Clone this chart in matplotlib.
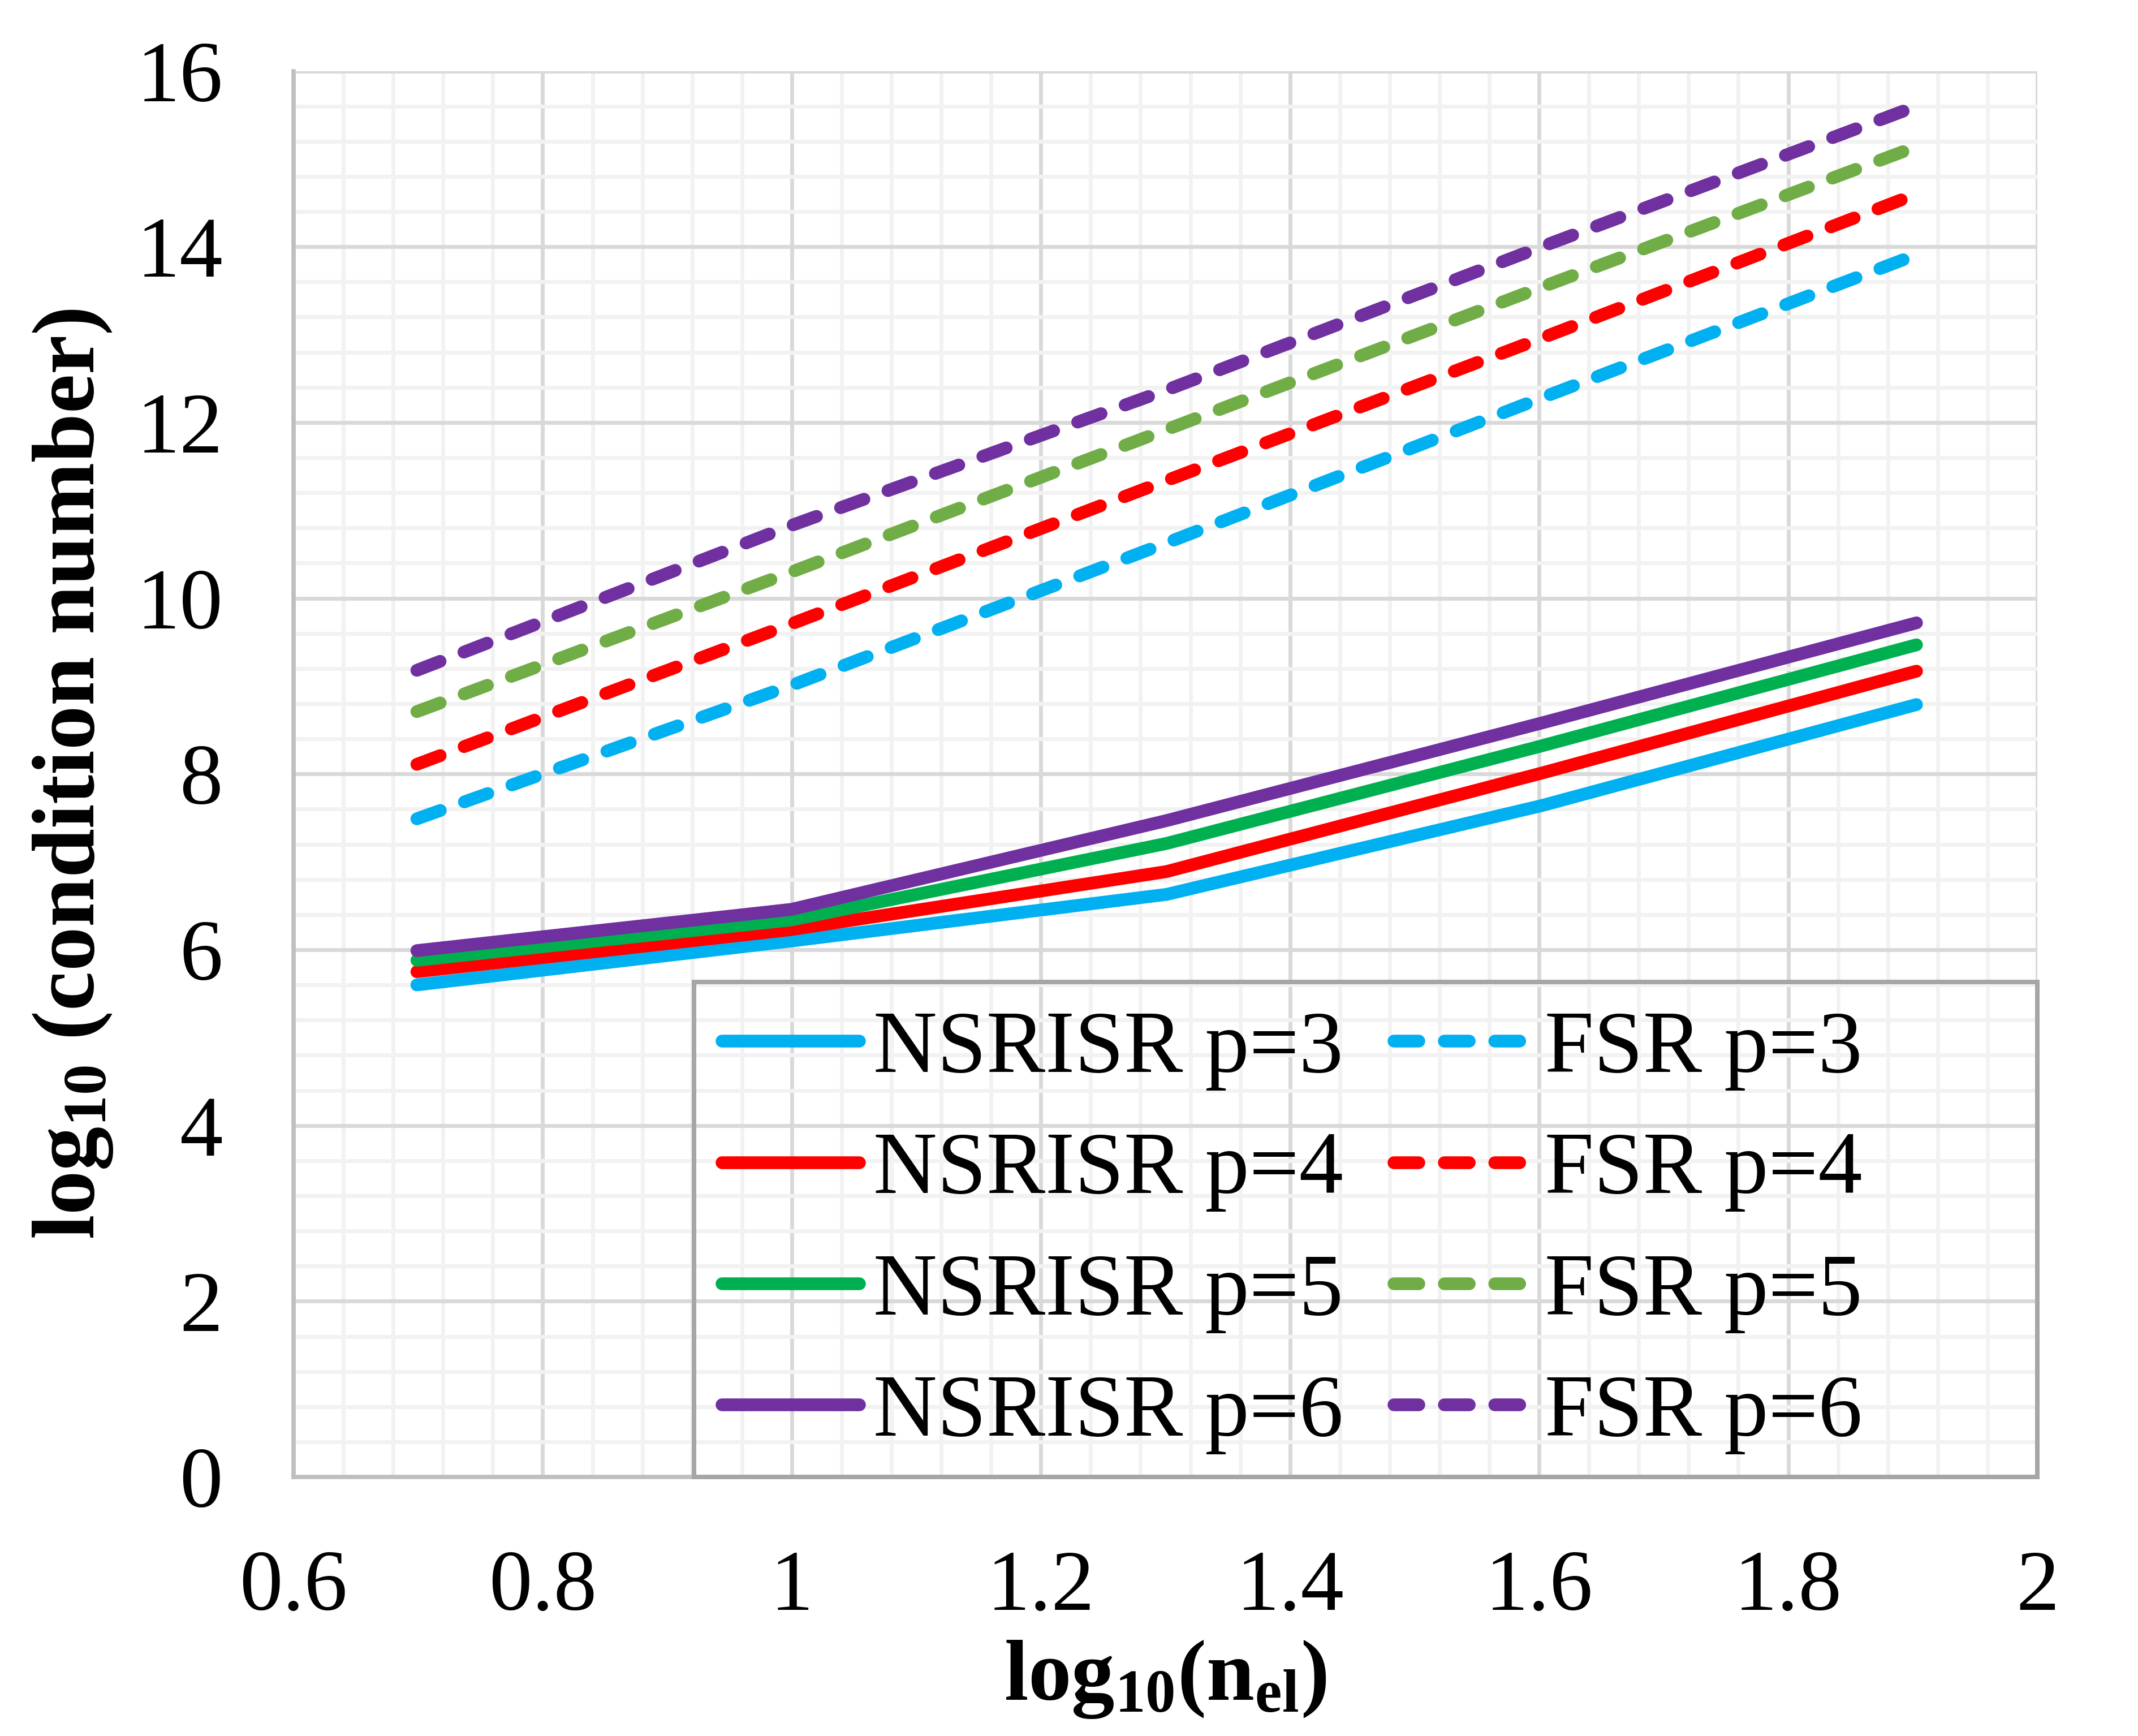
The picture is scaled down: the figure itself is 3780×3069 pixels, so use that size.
import numpy as np
import matplotlib.pyplot as plt
from matplotlib.patches import Rectangle
from matplotlib.ticker import MultipleLocator, FormatStrFormatter

plt.rcParams['font.family'] = ['Liberation Serif', 'DejaVu Serif']
plt.rcParams['mathtext.fontset'] = 'custom'
plt.rcParams['mathtext.rm'] = 'Liberation Serif'
plt.rcParams['mathtext.it'] = 'Liberation Serif:italic'
plt.rcParams['mathtext.bf'] = 'Liberation Serif:bold'

# log10 of number of elements (5, 10, 20, 40, 80)
x = [0.699, 1.0, 1.301, 1.602, 1.903]

# NSRISR (solid)
nsrisr_p3 = [5.60, 6.10, 6.63, 7.64, 8.79]
nsrisr_p4 = [5.75, 6.23, 6.89, 8.01, 9.17]
nsrisr_p5 = [5.88, 6.34, 7.21, 8.32, 9.47]
nsrisr_p6 = [5.99, 6.46, 7.47, 8.58, 9.72]

# FSR (dashed)
fsr_p3 = [7.49, 9.01, 10.63, 12.28, 13.91]
fsr_p4 = [8.11, 9.71, 11.34, 12.96, 14.60]
fsr_p5 = [8.71, 10.30, 11.92, 13.54, 15.14]
fsr_p6 = [9.18, 10.83, 12.37, 14.00, 15.60]

c_blue = '#00B0F0'
c_red = '#FF0000'
c_green = '#00B050'
c_lgreen = '#70AD47'
c_purple = '#7030A0'

fig = plt.figure(figsize=(15.12, 12.276), dpi=250)
ax = fig.add_axes([0.1373, 0.1492, 0.8156, 0.8099])

lw = 6.5
dash = (1.95, 2.0)
kw = dict(lw=lw, solid_capstyle='round', dash_capstyle='round', solid_joinstyle='round')

ax.plot(x, nsrisr_p3, color=c_blue, label='NSRISR p=3', **kw)
ax.plot(x, nsrisr_p4, color=c_red, label='NSRISR p=4', **kw)
ax.plot(x, nsrisr_p5, color=c_green, label='NSRISR p=5', **kw)
ax.plot(x, nsrisr_p6, color=c_purple, label='NSRISR p=6', **kw)
ax.plot(x, fsr_p3, color=c_blue, ls=(0, dash), label='FSR p=3', **kw)
ax.plot(x, fsr_p4, color=c_red, ls=(0, dash), label='FSR p=4', **kw)
ax.plot(x, fsr_p5, color=c_lgreen, ls=(0, dash), label='FSR p=5', **kw)
ax.plot(x, fsr_p6, color=c_purple, ls=(0, dash), label='FSR p=6', **kw)

ax.set_xlim(0.6, 2.0)
ax.set_ylim(0, 16)
ax.xaxis.set_major_locator(MultipleLocator(0.2))
ax.xaxis.set_minor_locator(MultipleLocator(0.04))
ax.yaxis.set_major_locator(MultipleLocator(2))
ax.yaxis.set_minor_locator(MultipleLocator(0.4))
ax.xaxis.set_major_formatter(FormatStrFormatter('%g'))
ax.yaxis.set_major_formatter(FormatStrFormatter('%g'))

ax.grid(which='major', color='#D9D9D9', lw=2.0)
ax.grid(which='minor', color='#F2F2F2', lw=2.0)
ax.set_axisbelow(True)

for s in ['top', 'right']:
    ax.spines[s].set_visible(False)
for s in ['left', 'bottom']:
    ax.spines[s].set_color('#BFBFBF')
    ax.spines[s].set_linewidth(2.2)

ax.tick_params(which='both', length=0, labelsize=44)
ax.tick_params(axis='y', pad=36)
ax.tick_params(axis='x', pad=37)

ax.set_xlabel(r'$\mathbf{log_{10}(n_{el})}$', fontsize=44, labelpad=5)
ax.set_ylabel(r'$\mathbf{log_{10}}$ (condition number)', fontsize=45,
              fontweight='bold', labelpad=11)

# legend content without its own frame, box drawn like the Excel legend
handles, labels = ax.get_legend_handles_labels()
leg = ax.legend(handles, labels, ncol=2, loc='center left',
                bbox_to_anchor=(0.2457, 0.1741), borderaxespad=0.0, borderpad=0.0,
                fontsize=45, frameon=False, handlelength=1.55, handletextpad=0.16,
                columnspacing=0.57, labelspacing=0.46)
ax.add_patch(Rectangle((0.2297, 0.0), 0.7703, 0.352, transform=ax.transAxes,
                       fill=False, edgecolor='#A6A6A6', lw=2.3, clip_on=False, zorder=5))

fig.savefig('out.png', dpi=250)
